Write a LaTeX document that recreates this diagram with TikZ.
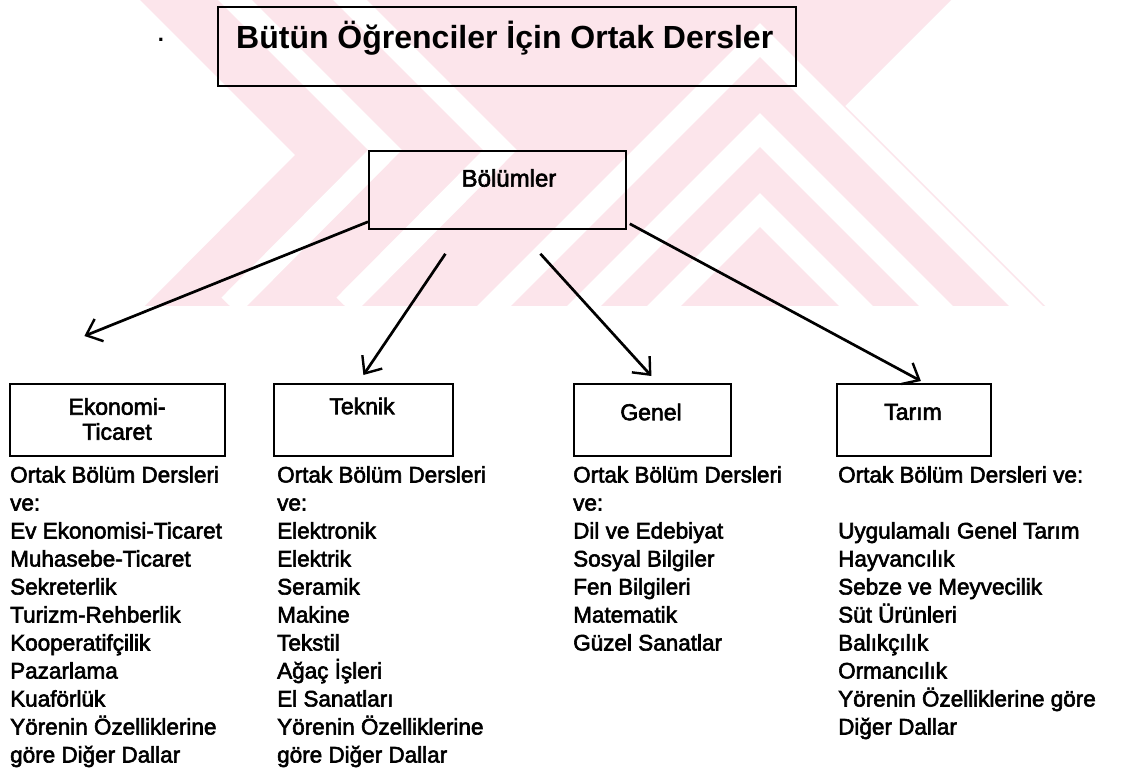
\documentclass[tikz,border=0pt]{standalone}
\usepackage{fontspec}
\setmainfont{Liberation Sans}
\newfontfamily\heavy{Liberation Sans}[FakeBold=2.5]
\usetikzlibrary{arrows.meta,calc}
\definecolor{wmpink}{RGB}{252,229,235}
\tikzset{
  box/.style={draw, line width=1.8pt, rectangle, inner sep=0pt},
  ttl/.style={font=\fontsize{32}{36}\selectfont\bfseries, inner sep=0pt},
  lbl/.style={font=\heavy\fontsize{23}{25}\selectfont, align=center, inner sep=0pt},
  lst/.style={font=\heavy\fontsize{22.5}{28}\selectfont, align=left, anchor=north west, inner sep=0pt},
  arr/.style={line width=2.7pt, -{Straight Barb[length=14pt, width=24pt, line width=2.4pt]}},
  link/.style={line width=1.8pt},
  wm/.style={fill=wmpink, draw=none},
  wg/.style={draw=white, line width=24pt}
}
\begin{document}
\begin{tikzpicture}[x=1pt, y=-1pt]
\useasboundingbox (0,0) rectangle (1132,783);
\fill[white] (0,0) rectangle (1132,783);
% watermark
\begin{scope}
  \clip (0,0) rectangle (1132,306);
  \fill[wm] (140,0) -- (295,155) -- (145,306) -- (1045,306) -- (845,106) -- (951,0) -- cycle;
  \draw[wg] (215,-20) -- (385,150) -- (230,306);
  \draw[wg] (330,-20) -- (500,150) -- (345,306);
  \draw[wg] (560,330) -- (760,130) -- (960,330);
  \draw[wg] (470,330) -- (760,40) -- (1050,330);
  \draw[wg] (640,330) -- (760,210) -- (880,330);
\end{scope}
% nodes
\node[box, minimum width=578pt, minimum height=79pt, anchor=north west] (top) at (217,6) {};
\node[ttl, anchor=west] (title) at (236,38) {Bütün Öğrenciler İçin Ortak Dersler};
\node[font=\fontsize{22}{24}\selectfont\bfseries, inner sep=0pt] (dot) at (161,40) {.};
\node[box, minimum width=257pt, minimum height=78pt, anchor=north west] (bol) at (368,150) {};
\node[lbl, font=\heavy\fontsize{24}{26}\selectfont] (boltxt) at (509,178) {Bölümler};

\node[box, minimum width=215pt, minimum height=72pt, anchor=north west] (eko) at (9,383) {};
\node[box, minimum width=179pt, minimum height=72pt, anchor=north west] (tek) at (273,383) {};
\node[box, minimum width=157pt, minimum height=72pt, anchor=north west] (gen) at (573,383) {};
\node[box, minimum width=154pt, minimum height=72pt, anchor=north west] (tar) at (836,383) {};

\node[lbl] (ekotxt) at (117,419) {Ekonomi-\\Ticaret};
\node[lbl] (tektxt) at (362,406) {Teknik};
\node[lbl] (gentxt) at (651,412) {Genel};
\node[lbl] (tartxt) at (913,412) {Tarım};

\node[lst] (l1) at (10,466) {Ortak Bölüm Dersleri\\ve:\\Ev Ekonomisi-Ticaret\\Muhasebe-Ticaret\\Sekreterlik\\Turizm-Rehberlik\\Kooperatifçilik\\Pazarlama\\Kuaförlük\\Yörenin Özelliklerine\\göre Diğer Dallar};
\node[lst] (l2) at (277,466) {Ortak Bölüm Dersleri\\ve:\\Elektronik\\Elektrik\\Seramik\\Makine\\Tekstil\\Ağaç İşleri\\El Sanatları\\Yörenin Özelliklerine\\göre Diğer Dallar};
\node[lst] (l3) at (573,466) {Ortak Bölüm Dersleri\\ve:\\Dil ve Edebiyat\\Sosyal Bilgiler\\Fen Bilgileri\\Matematik\\Güzel Sanatlar};
\node[lst] (l4) at (838,466) {Ortak Bölüm Dersleri ve:\\[28pt]Uygulamalı Genel Tarım\\Hayvancılık\\Sebze ve Meyvecilik\\Süt Ürünleri\\Balıkçılık\\Ormancılık\\Yörenin Özelliklerine göre\\Diğer Dallar};

% connectors
\draw[link] ($(top.south)+(13,0)$) -- ($(top.south)+(13,0)$ |- bol.north);
\draw[arr] ($(bol.south west)+(0,-8)$) -- ($(eko.north)+(-33,-47)$);
\draw[arr] ($(bol.south)+(-52,24)$) -- ($(tek.north)+(0,-8)$);
\draw[arr] ($(bol.south)+(43,24)$) -- ($(gen.north)+(-1,-7)$);
\draw[arr] ($(bol.south east)+(3,-6)$) -- ($(tar.north)+(7,-2)$);
\end{tikzpicture}
\end{document}
